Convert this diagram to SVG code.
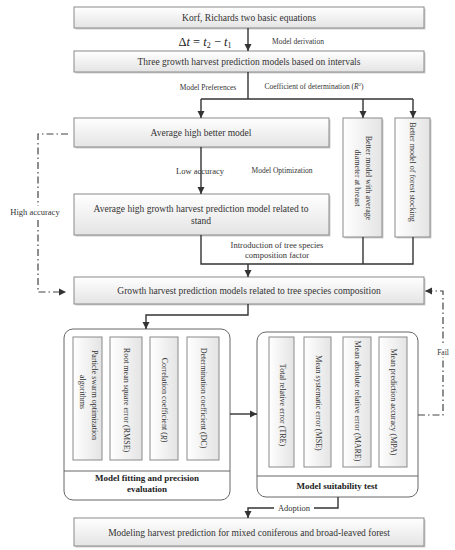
<svg xmlns="http://www.w3.org/2000/svg" width="455" height="550" viewBox="0 0 455 550">
<defs>
<linearGradient id="g" x1="0" y1="0" x2="0" y2="1">
<stop offset="0" stop-color="#ffffff"/>
<stop offset="1" stop-color="#e4e4e4"/>
</linearGradient>
<linearGradient id="gh" x1="0" y1="0" x2="1" y2="0">
<stop offset="0" stop-color="#ffffff"/>
<stop offset="1" stop-color="#e4e4e4"/>
</linearGradient>
<marker id="ah" markerWidth="8" markerHeight="8" refX="7" refY="4" orient="auto" markerUnits="userSpaceOnUse">
<path d="M0,0.5 L7,4 L0,7.5 z" fill="#333"/>
</marker>
</defs>
<style>
.box{fill:url(#g);stroke:#8a8a8a;stroke-width:1}
.vbox{fill:url(#gh);stroke:#8a8a8a;stroke-width:1}
.sh{fill:#cfcfcf}
.grp{fill:#fff;stroke:#666;stroke-width:1}
.t{font-family:"Liberation Serif","Times New Roman",serif;fill:#333;font-size:9.5px;text-anchor:middle}
.s{font-family:"Liberation Serif","Times New Roman",serif;fill:#333;font-size:7.5px;text-anchor:middle}
.l{font-family:"Liberation Serif","Times New Roman",serif;fill:#333;font-size:8.5px;text-anchor:middle}
.v{font-family:"Liberation Serif","Times New Roman",serif;fill:#333;font-size:8px;text-anchor:middle;dominant-baseline:central}
.b{font-family:"Liberation Serif","Times New Roman",serif;fill:#222;font-size:9px;font-weight:bold;text-anchor:middle}
.c{fill:none;stroke:#333;stroke-width:1.4}
.d{fill:none;stroke:#444;stroke-width:1.2;stroke-dasharray:7 3 1.5 3}
</style>

<g id="n1">
<rect class="sh" x="75.5" y="8.5" width="350" height="21"/>
<rect class="box" x="74" y="7" width="350" height="21"/>
<text class="t" x="249" y="21">Korf, Richards two basic equations</text>
</g>
<g id="n2">
<rect class="sh" x="75.5" y="52.5" width="350" height="21"/>
<rect class="box" x="74" y="51" width="350" height="21"/>
<text class="t" x="249" y="65">Three growth harvest prediction models based on intervals</text>
</g>
<g id="n3">
<rect class="sh" x="75.5" y="119.5" width="255" height="29"/>
<rect class="box" x="74" y="118" width="255" height="29"/>
<text class="t" x="201" y="136">Average high better model</text>
</g>
<g id="n4">
<rect class="sh" x="75.5" y="195.5" width="255" height="41"/>
<rect class="box" x="74" y="194" width="255" height="41"/>
<text class="t" x="201" y="212">Average high growth harvest prediction model related to</text>
<text class="t" x="201" y="224">stand</text>
</g>
<g id="n5">
<rect class="sh" x="344.5" y="119.5" width="39" height="119"/>
<rect class="vbox" x="343" y="118" width="39" height="119"/>
<text class="v" transform="translate(368,178) rotate(90)">Better model with average</text>
<text class="v" transform="translate(357,178) rotate(90)">diameter at breast</text>
</g>
<g id="n6">
<rect class="sh" x="396.5" y="119.5" width="35" height="119"/>
<rect class="vbox" x="395" y="118" width="35" height="119"/>
<text class="v" transform="translate(412,172) rotate(90)">Better model of forest stocking</text>
</g>
<g id="n7">
<rect class="sh" x="75.5" y="278.5" width="350" height="27"/>
<rect class="box" x="74" y="277" width="350" height="27"/>
<text class="t" x="249" y="294">Growth harvest prediction models related to tree species composition</text>
</g>

<g id="g1">
<rect class="grp" x="64" y="329" width="166" height="171" rx="9"/>
<line x1="64" y1="471" x2="230" y2="471" stroke="#666" stroke-width="1"/>
<text class="b" x="147" y="481">Model fitting and precision</text>
<text class="b" x="147" y="492">evaluation</text>
<g id="g1a">
<rect class="vbox" x="73" y="337" width="29" height="123"/>
<text class="v" transform="translate(94,395) rotate(90)">Particle swarm optimization</text>
<text class="v" transform="translate(82,392) rotate(90)">algorithms</text>
</g>
<g id="g1b">
<rect class="vbox" x="110" y="337" width="32" height="123"/>
<text class="v" transform="translate(126,400) rotate(90)">Root mean square error (RMSE)</text>
</g>
<g id="g1c">
<rect class="vbox" x="150" y="337" width="28" height="123"/>
<text class="v" transform="translate(164,400) rotate(90)">Correlation coefficient (<tspan font-style="italic">R</tspan>)</text>
</g>
<g id="g1d">
<rect class="vbox" x="187" y="337" width="32" height="123"/>
<text class="v" transform="translate(203,398) rotate(90)">Determination coefficient (DC)</text>
</g>
</g>

<g id="g2">
<rect class="grp" x="257" y="332" width="161" height="165" rx="9"/>
<line x1="257" y1="476" x2="418" y2="476" stroke="#666" stroke-width="1"/>
<text class="b" x="337" y="489">Model suitability test</text>
<g id="g2a">
<rect class="vbox" x="269" y="337" width="25" height="130"/>
<text class="v" transform="translate(282,405) rotate(90)">Total relative error (TRE)</text>
</g>
<g id="g2b">
<rect class="vbox" x="304" y="337" width="27" height="130"/>
<text class="v" transform="translate(318,403) rotate(90)">Mean systematic error (MSE)</text>
</g>
<g id="g2c">
<rect class="vbox" x="343" y="337" width="28" height="130"/>
<text class="v" transform="translate(357,401) rotate(90)">Mean absolute relative error (MARE)</text>
</g>
<g id="g2d">
<rect class="vbox" x="379" y="337" width="28" height="130"/>
<text class="v" transform="translate(393,402) rotate(90)">Mean prediction accuracy (MPA)</text>
</g>
</g>

<g id="n8">
<rect class="sh" x="75.5" y="519.5" width="350" height="28"/>
<rect class="box" x="74" y="518" width="350" height="28"/>
<text class="t" x="249" y="536">Modeling harvest prediction for mixed coniferous and broad-leaved forest</text>
</g>

<g id="connectors">
<line class="c" x1="248" y1="28" x2="248" y2="51" marker-end="url(#ah)"/>
<polyline class="c" points="248,72 248,99"/>
<line class="c" x1="201" y1="99" x2="413" y2="99"/>
<line class="c" x1="201" y1="99" x2="201" y2="118" marker-end="url(#ah)"/>
<line class="c" x1="363" y1="99" x2="363" y2="118" marker-end="url(#ah)"/>
<line class="c" x1="413" y1="99" x2="413" y2="118" marker-end="url(#ah)"/>
<line class="c" x1="201" y1="147" x2="201" y2="194" marker-end="url(#ah)"/>
<polyline class="c" points="201,235 201,264 413,264 413,237"/>
<line class="c" x1="363" y1="237" x2="363" y2="264"/>
<line class="c" x1="248" y1="264" x2="248" y2="277" marker-end="url(#ah)"/>
<polyline class="c" points="248,304 248,315 146,315 146,329" marker-end="url(#ah)"/>
<line class="c" x1="230" y1="414" x2="257" y2="414" marker-end="url(#ah)"/>
<polyline class="c" points="338,497 338,508 248,508 248,518" marker-end="url(#ah)"/>
<polyline class="d" points="68,134 38,134 38,292 66,292" marker-end="url(#ah)"/>
<polyline class="d" points="418,415 443,415 443,291 425,291" marker-end="url(#ah)"/>
</g>

<g id="labels">
<text x="205" y="46" font-family="Liberation Serif,serif" font-size="12.5" fill="#222" text-anchor="middle">Δ<tspan font-style="italic">t</tspan> = <tspan font-style="italic">t</tspan><tspan font-size="8" dy="2">2</tspan><tspan dy="-2"> − </tspan><tspan font-style="italic">t</tspan><tspan font-size="8" dy="2">1</tspan></text>
<text class="s" x="298" y="44">Model derivation</text>
<text class="s" x="208" y="90">Model Preferences</text>
<text class="s" x="314" y="89">Coefficient of determination (<tspan font-style="italic">R</tspan><tspan font-size="5" dy="-3">2</tspan><tspan dy="3">)</tspan></text>
<text class="l" x="200" y="174">Low accuracy</text>
<text class="s" x="282" y="173">Model Optimization</text>
<rect x="5" y="206" width="60" height="12" fill="#fff"/>
<text class="l" x="35" y="215">High accuracy</text>
<text class="l" x="277" y="248">Introduction of tree species</text>
<text class="l" x="277" y="258">composition factor</text>
<rect x="436" y="346" width="14" height="11" fill="#fff"/>
<text class="s" x="443" y="355">Fail</text>
<rect x="274" y="503" width="40" height="10" fill="#fff"/>
<text class="l" x="294" y="511">Adoption</text>
</g>
</svg>
